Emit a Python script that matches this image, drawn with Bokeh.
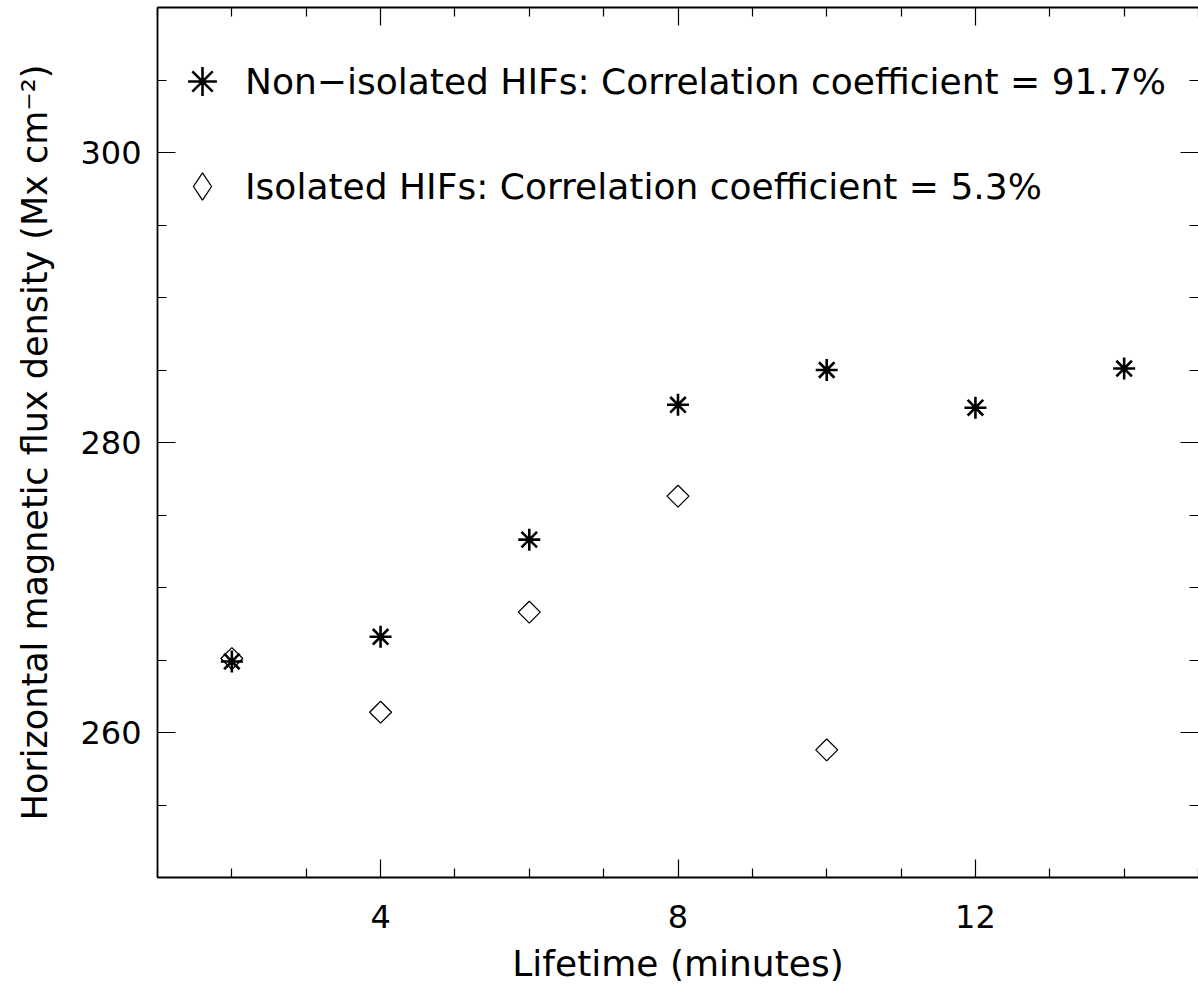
import numpy as np
from bokeh.plotting import figure
from bokeh.models import (LinearAxis, FixedTicker, Legend, LegendItem, Range1d,
                          ColumnDataSource)
from bokeh.embed import file_html
from bokeh.resources import INLINE

# ---- data ----
lifetime_non = [2, 4, 6, 8, 10, 12, 14]
flux_non = [264.9, 266.6, 273.3, 282.6, 285.0, 282.4, 285.1]
lifetime_iso = [2, 4, 6, 8, 10]
flux_iso = [265.1, 261.4, 268.3, 276.3, 258.8]

label_non = "Non\u2212isolated HIFs: Correlation coefficient = 91.7%"
label_iso = "Isolated HIFs: Correlation coefficient = 5.3%"
x_label = "Lifetime (minutes)"
y_label = "Horizontal magnetic flux density (Mx cm\u207b\u00b2)"

x_major = [4, 8, 12]
x_minor = [1, 2, 3, 5, 6, 7, 9, 10, 11, 13, 14, 15]
y_major = [260, 280, 300]
y_minor = [250, 255, 265, 270, 275, 285, 290, 295, 305, 310]

FONT = "DejaVu Sans"

p = figure(frame_width=1041, frame_height=870,
           x_range=Range1d(1, 15), y_range=Range1d(250, 310),
           output_backend="svg", toolbar_location=None,
           min_border_left=157, min_border_top=7, min_border_right=0,
           min_border_bottom=0,
           x_axis_label=x_label, y_axis_label=y_label)
p.outline_line_color = None
p.grid.visible = False
p.background_fill_color = "white"
p.border_fill_color = "white"


def style_axis(ax, ticks, minor, labels=True):
    ax.ticker = FixedTicker(ticks=ticks, minor_ticks=minor)
    ax.major_tick_in = 18
    ax.major_tick_out = 0
    ax.minor_tick_in = 9
    ax.minor_tick_out = 0
    ax.major_tick_line_color = "black"
    ax.minor_tick_line_color = "black"
    ax.major_tick_line_width = 1.2
    ax.minor_tick_line_width = 1.2
    ax.axis_line_color = "black"
    ax.axis_line_width = 1.8
    ax.major_label_text_font = FONT
    ax.axis_label_text_font = FONT
    ax.axis_label_text_font_style = "normal"
    ax.axis_label_text_color = "black"
    if labels:
        ax.major_label_text_color = "black"
        ax.major_label_text_font_size = "32px"
    else:
        ax.major_label_text_color = None
        ax.major_label_text_font_size = "1px"
        ax.major_label_standoff = 0


xax = p.xaxis[0]
style_axis(xax, x_major, x_minor)
xax.major_label_standoff = 27
xax.axis_label_standoff = 12
xax.axis_label_text_font_size = "36px"

yax = p.yaxis[0]
style_axis(yax, y_major, y_minor)
yax.major_label_standoff = 16
yax.axis_label_standoff = 22
yax.axis_label_text_font_size = "35px"

top = LinearAxis()
style_axis(top, x_major, x_minor, labels=False)
p.add_layout(top, "above")

right = LinearAxis()
style_axis(right, y_major, y_minor, labels=False)
right.axis_line_color = None
p.add_layout(right, "right")

src_non = ColumnDataSource(dict(x=lifetime_non, y=flux_non))
src_iso = ColumnDataSource(dict(x=lifetime_iso, y=flux_iso))

r_iso = p.scatter("x", "y", source=src_iso, marker="square", size=15.5,
                  angle=np.pi / 4, fill_color=None, line_color="black",
                  line_width=1.3)
r_non = p.scatter("x", "y", source=src_non, marker="asterisk", size=22,
                  line_color="black", line_width=2.6)
# legend-only symbol for the isolated series (legend glyphs ignore angle)
r_iso_key = p.scatter("x", "y", source=src_iso, marker="diamond", size=23,
                      fill_color=None, line_color="black", line_width=1.3,
                      visible=False)

leg1 = Legend(items=[LegendItem(label=label_non, renderers=[r_non])],
              location="top_left", margin=9, padding=0,
              glyph_width=72, glyph_height=130, label_height=130,
              label_standoff=7,
              label_text_font=FONT, label_text_font_size="36px",
              label_text_color="black",
              border_line_color=None, background_fill_color=None)
leg2 = Legend(items=[LegendItem(label=label_iso, renderers=[r_iso_key])],
              location="top_left", margin=11, padding=0,
              glyph_width=68, glyph_height=336, label_height=336,
              label_standoff=9,
              label_text_font=FONT, label_text_font_size="36px",
              label_text_color="black",
              border_line_color=None, background_fill_color=None)
p.add_layout(leg1, "center")
p.add_layout(leg2, "center")

open("out.html", "w").write(file_html(p, INLINE))
